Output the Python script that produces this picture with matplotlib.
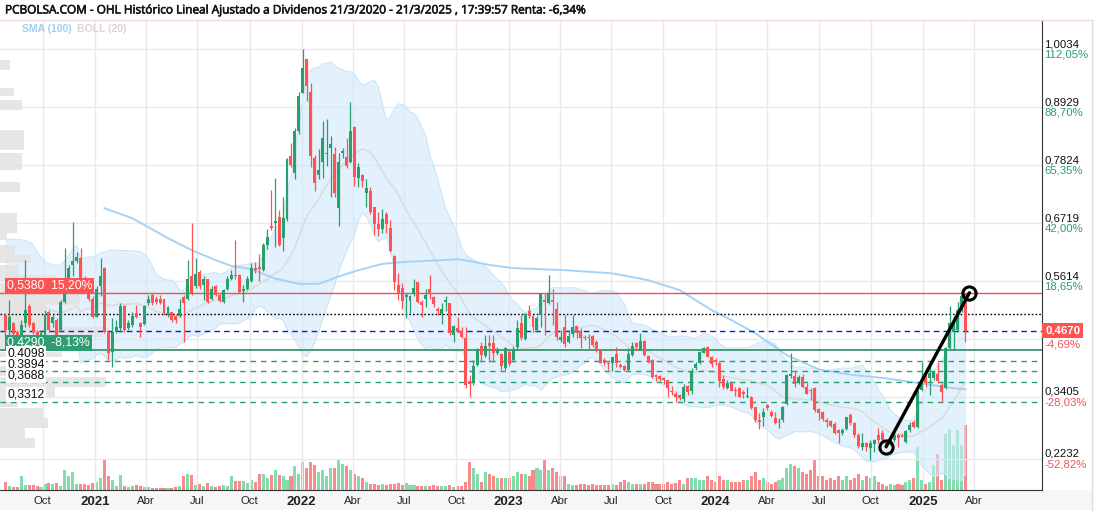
import numpy as np
import pandas as pd
import matplotlib
matplotlib.use("Agg")
import matplotlib.pyplot as plt
import matplotlib.dates as mdates
import matplotlib.patheffects as pe
from matplotlib.patches import Rectangle
from matplotlib.lines import Line2D
from matplotlib.transforms import blended_transform_factory

# ---------------- data (weekly candles) ----------------
first_week = "2020-07-27"

opens = [0.497,0.468,0.481,0.465,0.459,0.481,0.514,0.481,0.465,0.455,
         0.459,0.503,0.481,0.487,0.468,0.522,0.563,0.592,0.600,0.606,
         0.547,0.541,0.528,0.493,0.551,0.587,0.465,0.427,0.465,0.471,
         0.514,0.471,0.478,0.500,0.481,0.480,0.519,0.535,0.528,0.528,
         0.527,0.497,0.502,0.495,0.495,0.530,0.528,0.571,0.552,0.579,
         0.554,0.565,0.528,0.552,0.535,0.522,0.547,0.565,0.573,0.573,
         0.543,0.547,0.562,0.587,0.587,0.582,0.630,0.666,0.671,0.683,
         0.644,0.679,0.800,0.768,0.848,0.920,0.984,0.921,0.795,0.763,
         0.789,0.803,0.815,0.803,0.700,0.806,0.798,0.789,0.855,0.757,
         0.763,0.730,0.733,0.702,0.670,0.661,0.689,0.662,0.609,0.554,
         0.549,0.530,0.524,0.537,0.559,0.521,0.528,0.547,0.530,0.509,
         0.499,0.522,0.519,0.459,0.471,0.467,0.452,0.370,0.368,0.401,
         0.438,0.418,0.443,0.443,0.425,0.422,0.396,0.427,0.411,0.436,
         0.481,0.450,0.505,0.495,0.469,0.497,0.525,0.519,0.525,0.509,
         0.449,0.473,0.446,0.460,0.476,0.467,0.455,0.454,0.457,0.446,
         0.429,0.411,0.406,0.405,0.422,0.401,0.399,0.391,0.420,0.443,
         0.430,0.448,0.419,0.411,0.382,0.380,0.376,0.372,0.352,0.347,
         0.344,0.336,0.362,0.351,0.395,0.405,0.425,0.435,0.417,0.411,
         0.406,0.374,0.357,0.368,0.354,0.358,0.349,0.340,0.340,0.321,
         0.297,0.303,0.325,0.312,0.301,0.292,0.297,0.327,0.380,0.380,
         0.368,0.379,0.360,0.354,0.357,0.317,0.312,0.297,0.295,0.289,
         0.278,0.272,0.280,0.306,0.290,0.268,0.245,0.253,0.243,0.251,
         0.268,0.271,0.252,0.251,0.258,0.268,0.268,0.255,0.278,0.293,
         0.284,0.353,0.382,0.376,0.376,0.384,0.363,0.357,0.433,0.465,
         0.468,0.506,0.538]

highs = [0.500,0.525,0.484,0.468,0.487,0.601,0.518,0.484,0.468,0.468,
         0.506,0.506,0.497,0.490,0.525,0.624,0.592,0.673,0.617,0.624,
         0.570,0.544,0.532,0.551,0.606,0.589,0.468,0.490,0.487,0.519,
         0.516,0.487,0.503,0.516,0.484,0.516,0.535,0.538,0.532,0.535,
         0.528,0.513,0.503,0.497,0.528,0.535,0.601,0.671,0.605,0.582,
         0.570,0.566,0.551,0.554,0.538,0.547,0.570,0.582,0.640,0.575,
         0.554,0.570,0.595,0.598,0.613,0.633,0.660,0.735,0.757,0.697,
         0.721,0.795,0.824,0.852,0.922,1.003,0.984,0.938,0.801,0.812,
         0.866,0.871,0.838,0.817,0.805,0.814,0.833,0.902,0.857,0.787,
         0.766,0.755,0.741,0.703,0.693,0.698,0.693,0.678,0.611,0.577,
         0.557,0.538,0.535,0.565,0.560,0.525,0.547,0.572,0.532,0.512,
         0.519,0.533,0.520,0.478,0.493,0.473,0.474,0.382,0.411,0.433,
         0.446,0.459,0.459,0.459,0.436,0.424,0.435,0.430,0.438,0.487,
         0.497,0.501,0.516,0.497,0.495,0.538,0.539,0.573,0.547,0.522,
         0.468,0.497,0.468,0.496,0.478,0.471,0.459,0.460,0.459,0.449,
         0.430,0.414,0.408,0.417,0.435,0.406,0.401,0.433,0.446,0.446,
         0.462,0.449,0.420,0.412,0.385,0.382,0.379,0.373,0.361,0.351,
         0.347,0.366,0.363,0.395,0.408,0.428,0.435,0.438,0.419,0.414,
         0.408,0.382,0.373,0.370,0.360,0.360,0.354,0.360,0.342,0.322,
         0.309,0.319,0.328,0.316,0.312,0.300,0.323,0.385,0.424,0.389,
         0.382,0.384,0.368,0.357,0.360,0.319,0.314,0.300,0.297,0.293,
         0.279,0.281,0.303,0.309,0.292,0.271,0.272,0.255,0.258,0.260,
         0.281,0.278,0.258,0.260,0.271,0.271,0.271,0.278,0.292,0.297,
         0.354,0.408,0.392,0.405,0.392,0.408,0.367,0.436,0.514,0.494,
         0.522,0.541,0.539]

lows = [0.455,0.455,0.455,0.454,0.455,0.474,0.474,0.460,0.450,0.452,
        0.455,0.465,0.474,0.455,0.465,0.520,0.560,0.570,0.595,0.544,
        0.541,0.524,0.490,0.492,0.532,0.463,0.411,0.398,0.462,0.465,
        0.465,0.468,0.474,0.490,0.455,0.478,0.516,0.516,0.518,0.518,
        0.497,0.493,0.484,0.482,0.493,0.446,0.525,0.535,0.549,0.547,
        0.525,0.519,0.525,0.532,0.522,0.520,0.544,0.563,0.566,0.538,
        0.522,0.544,0.560,0.576,0.562,0.581,0.622,0.659,0.627,0.628,
        0.619,0.676,0.779,0.755,0.841,0.919,0.905,0.779,0.733,0.755,
        0.757,0.780,0.721,0.721,0.667,0.795,0.776,0.786,0.742,0.740,
        0.741,0.703,0.690,0.649,0.647,0.652,0.653,0.617,0.544,0.525,
        0.509,0.490,0.500,0.532,0.519,0.493,0.512,0.528,0.512,0.497,
        0.479,0.505,0.459,0.446,0.463,0.452,0.357,0.341,0.363,0.399,
        0.408,0.417,0.408,0.408,0.420,0.392,0.392,0.399,0.408,0.430,
        0.449,0.449,0.490,0.465,0.465,0.473,0.459,0.518,0.478,0.449,
        0.446,0.436,0.443,0.455,0.452,0.433,0.449,0.430,0.436,0.427,
        0.405,0.401,0.392,0.389,0.398,0.395,0.389,0.389,0.419,0.430,
        0.429,0.419,0.406,0.376,0.370,0.370,0.366,0.341,0.344,0.330,
        0.335,0.330,0.345,0.347,0.392,0.403,0.424,0.416,0.398,0.401,
        0.360,0.355,0.355,0.351,0.342,0.340,0.338,0.338,0.317,0.293,
        0.279,0.285,0.316,0.303,0.289,0.281,0.293,0.325,0.376,0.360,
        0.365,0.357,0.346,0.335,0.312,0.297,0.295,0.284,0.283,0.270,
        0.252,0.268,0.278,0.287,0.265,0.243,0.239,0.238,0.220,0.236,
        0.252,0.255,0.243,0.249,0.255,0.246,0.264,0.252,0.274,0.281,
        0.282,0.351,0.360,0.344,0.373,0.367,0.330,0.355,0.430,0.430,
        0.465,0.503,0.446]

closes = [0.468,0.493,0.460,0.459,0.478,0.506,0.478,0.465,0.455,0.463,
          0.497,0.468,0.492,0.459,0.522,0.563,0.587,0.600,0.608,0.547,
          0.543,0.527,0.493,0.547,0.570,0.465,0.424,0.465,0.474,0.513,
          0.468,0.482,0.495,0.492,0.474,0.513,0.528,0.519,0.522,0.520,
          0.500,0.511,0.487,0.487,0.509,0.520,0.566,0.538,0.575,0.551,
          0.565,0.522,0.546,0.535,0.524,0.544,0.565,0.573,0.570,0.541,
          0.547,0.566,0.587,0.582,0.585,0.630,0.645,0.662,0.676,0.630,
          0.681,0.794,0.782,0.848,0.913,0.967,0.932,0.800,0.749,0.773,
          0.833,0.806,0.822,0.730,0.789,0.809,0.780,0.847,0.760,0.779,
          0.751,0.738,0.692,0.670,0.661,0.679,0.670,0.619,0.560,0.538,
          0.524,0.535,0.532,0.549,0.522,0.516,0.534,0.537,0.517,0.505,
          0.509,0.525,0.462,0.476,0.465,0.455,0.363,0.366,0.399,0.431,
          0.420,0.438,0.438,0.425,0.430,0.399,0.433,0.403,0.431,0.471,
          0.452,0.499,0.495,0.473,0.490,0.536,0.521,0.538,0.521,0.455,
          0.455,0.441,0.457,0.474,0.462,0.452,0.453,0.452,0.439,0.430,
          0.406,0.405,0.403,0.416,0.405,0.398,0.391,0.422,0.438,0.436,
          0.448,0.420,0.408,0.378,0.378,0.374,0.372,0.357,0.349,0.341,
          0.338,0.360,0.349,0.389,0.403,0.427,0.433,0.417,0.403,0.408,
          0.370,0.359,0.368,0.352,0.351,0.341,0.346,0.342,0.319,0.297,
          0.292,0.312,0.320,0.305,0.290,0.293,0.322,0.382,0.385,0.366,
          0.378,0.360,0.347,0.351,0.316,0.309,0.298,0.293,0.285,0.272,
          0.271,0.278,0.302,0.290,0.268,0.247,0.252,0.245,0.252,0.258,
          0.258,0.258,0.246,0.258,0.268,0.262,0.265,0.276,0.287,0.284,
          0.351,0.373,0.367,0.386,0.389,0.370,0.349,0.433,0.481,0.478,
          0.506,0.532,0.467]

volumes = [8,4,3,3,14,5,5,5,4,3,
           6,7,6,7,4,20,14,18,6,6,
           6,5,7,8,12,30,14,10,4,15,
           4,3,4,5,4,3,3,2,2,2,
           2,2,2,3,4,14,16,15,5,6,
           4,7,4,3,4,5,4,14,9,9,
           9,7,10,8,16,16,12,15,20,15,
           14,10,14,24,16,28,22,28,25,18,
           20,14,22,22,30,26,24,20,16,14,
           12,8,6,6,5,6,5,6,6,7,
           5,7,5,5,4,4,4,4,5,4,
           4,4,5,3,4,4,8,28,22,16,
           8,18,16,14,12,12,12,12,14,18,
           16,16,14,20,22,20,30,20,22,18,
           14,14,6,5,5,6,6,5,6,5,
           5,5,5,6,5,8,10,8,6,6,
           6,6,8,8,6,6,6,8,6,7,
           10,6,12,12,12,10,10,14,10,8,
           14,10,10,8,8,8,10,10,14,18,
           10,12,8,6,8,10,12,22,26,24,
           22,18,16,20,30,14,14,10,12,10,
           14,10,14,10,12,16,10,14,12,14,
           8,6,4,6,5,6,5,8,10,12,
           43,10,6,8,25,36,10,56,61,45,
           60,45,65]

# Bollinger(20) for the first 19 weeks (history before the window)
bb_early_upper = [0.640,0.641,0.641,0.640,0.640,0.638,0.636,0.630,0.618,0.606,
                  0.598,0.594,0.592,0.591,0.593,0.600,0.610,0.622,0.630]
bb_early_mid = [0.552,0.550,0.548,0.545,0.541,0.537,0.533,0.528,0.522,0.517,
                0.512,0.508,0.505,0.503,0.502,0.503,0.506,0.510,0.514]
bb_early_lower = [0.462,0.460,0.456,0.452,0.449,0.447,0.446,0.446,0.446,0.447,
                  0.447,0.447,0.447,0.447,0.447,0.446,0.446,0.447,0.448]

# SMA(100) (week index, value)
sma100_week = [25,32,41,47,53,57,62,68,74,79,84,89,95,101,110,114,118,122,128,
               141,153,162,170,174,178,183,189,197,205,214,222,231,239,242]
sma100_val = [0.700,0.681,0.643,0.620,0.601,0.590,0.584,0.566,0.556,0.556,0.570,
              0.582,0.594,0.598,0.601,0.603,0.598,0.592,0.586,0.582,0.576,0.563,
              0.544,0.525,0.506,0.487,0.462,0.420,0.393,0.382,0.376,0.366,0.357,0.355]

# volume-by-price profile (price low, price high, volume units)
profile_lo = [0.963,0.914,0.887,0.811,0.773,0.731,0.653,0.640,0.611,0.596,0.573,
              0.560,0.535,0.516,0.500,0.474,0.455,0.430,0.417,0.380,0.360,0.340,
              0.321,0.300,0.281,0.262,0.243]
profile_hi = [0.982,0.929,0.906,0.849,0.805,0.750,0.691,0.653,0.630,0.611,0.592,
              0.573,0.558,0.535,0.516,0.500,0.474,0.455,0.426,0.400,0.379,0.360,
              0.339,0.320,0.300,0.281,0.262]
profile_vol = [10,14,22,24,22,20,17,7,15,31,18,57,60,80,45,48,103,70,62,30,106,55,
               18,43,48,25,35]

# horizontal levels
level_red = 0.5380
level_dotted = 0.4980
level_last = 0.4670
level_green = 0.4290
level_dashed = [0.4098, 0.3894, 0.3688, 0.3312]
dashed_labels = ["0,4098", "0,3894", "0,3688", "0,3312"]

# right axis labels
axis_prices = [1.0034, 0.8929, 0.7824, 0.6719, 0.5614, 0.4509, 0.3405, 0.2232]
axis_price_txt = ["1,0034", "0,8929", "0,7824", "0,6719", "0,5614", "", "0,3405", "0,2232"]
axis_pct_txt = ["112,05%", "88,70%", "65,35%", "42,00%", "18,65%", "-4,69%", "-28,03%", "-52,82%"]

tick_dates = ["2020-10-01","2021-01-01","2021-04-01","2021-07-01","2021-10-01",
              "2022-01-01","2022-04-01","2022-07-01","2022-10-01","2023-01-01",
              "2023-04-01","2023-07-01","2023-10-01","2024-01-01","2024-04-01",
              "2024-07-01","2024-10-01","2025-01-01","2025-04-01"]
tick_labels = ["Oct","2021","Abr","Jul","Oct","2022","Abr","Jul","Oct","2023",
               "Abr","Jul","Oct","2024","Abr","Jul","Oct","2025","Abr"]

# trend line (week index, price)
trend_week = [222, 243]
trend_price = [0.2457, 0.539]

title = "PCBOLSA.COM - OHL Histórico Lineal Ajustado a Dividenos 21/3/2020 - 21/3/2025 , 17:39:57 Renta: -6,34%"

# ---------------- figure ----------------
W, H = 1096, 512
fig = plt.figure(figsize=(W / 100, H / 100), dpi=100)
fig.patch.set_facecolor("white")

def fx(px):
    return px / W

def fy(py):
    return 1 - py / H

rect = [0, fy(490), fx(1042), (490 - 20) / H]
axv = fig.add_axes(rect, zorder=0)
ax = fig.add_axes(rect, zorder=1)
ax.patch.set_visible(False)

base = pd.Timestamp(first_week)
n = len(closes)
dates = pd.date_range(base, periods=n, freq="7D")
xd = mdates.date2num(dates)
o = np.array(opens); h = np.array(highs); l = np.array(lows); c = np.array(closes)

x0 = mdates.date2num(base - pd.Timedelta(days=9.35))
x1 = mdates.date2num(pd.Timestamp("2025-07-30"))
ylo, yhi = 0.1632, 1.0587
for a in (ax, axv):
    a.set_xlim(x0, x1)
ax.set_ylim(ylo, yhi)

GREEN = "#26a06e"
RED = "#ff5252"
up = c >= o

# volume
vcol = np.where(up, "#82dcae", "#f78a8a")
axv.bar(xd, volumes, width=5.4, color=vcol, linewidth=0)
axv.set_ylim(0, 470)
axv.axis("off")

# grid
for d in tick_dates:
    ax.axvline(mdates.date2num(pd.Timestamp(d)), color="#e9e9e9", lw=1, zorder=0.2)
for p in axis_prices:
    ax.axhline(p, color="#e9e9e9", lw=1, zorder=0.2)

# Bollinger (20)
s = pd.Series(c)
mid = s.rolling(20).mean().values
sd = s.rolling(20).std(ddof=0).values
bu = mid + 2 * sd
bl = mid - 2 * sd
ne = len(bb_early_upper)
bu[:ne] = bb_early_upper
bl[:ne] = bb_early_lower
mid[:ne] = bb_early_mid
ax.fill_between(xd, bl, bu, color="#cfe8fb", alpha=0.6, lw=0, zorder=1)
ax.plot(xd, bu, color="#cbe5f8", lw=0.8, zorder=1.1)
ax.plot(xd, bl, color="#cbe5f8", lw=0.8, zorder=1.1)
ax.plot(xd, mid, color="#dcdcdc", lw=1.2, zorder=1.2)

# SMA(100)
ax.plot(xd[sma100_week], sma100_val, color="#a6d2f6", lw=1.4, zorder=1.3)

# volume profile
tr = blended_transform_factory(ax.transAxes, ax.transData)
for lo_, hi_, v in zip(profile_lo, profile_hi, profile_vol):
    ax.add_patch(Rectangle((0, lo_), v / 1042.0, hi_ - lo_, transform=tr,
                           facecolor="#e2e2e2", alpha=0.85, lw=0, zorder=1.5))

# levels
ax.axhline(level_red, color="#f44f4f", lw=1, zorder=2)
ax.axhline(level_dotted, color="black", lw=1, ls=(0, (1.2, 1.5)), zorder=2)
ax.axhline(level_last, color="#1020c8", lw=1, ls=(0, (4, 3)), zorder=2)
ax.axhline(level_green, color="#2e8b62", lw=1.2, zorder=2)
for p in level_dashed:
    ax.axhline(p, color="#26a06e", lw=1, ls=(0, (4, 3.5)), zorder=2)

# candles
cols = np.where(up, GREEN, RED)
ax.vlines(xd, l, h, colors=cols, lw=0.9, zorder=3)
body_lo = np.minimum(o, c)
body_h = np.maximum(np.abs(c - o), 0.0022)
ax.bar(xd, body_h, bottom=body_lo, width=5.2, color=cols, linewidth=0, zorder=3.1)

# trend line
tx = [mdates.date2num(base + pd.Timedelta(days=7 * w)) for w in trend_week]
ax.plot(tx, trend_price, color="black", lw=2.4, zorder=5, solid_capstyle="round")
ax.plot(tx, trend_price, ls="none", marker="o", ms=9.5, mfc="none", mec="black",
        mew=2.2, zorder=5.1)

# axes styling
ax.set_yticks([])
ax.set_xticks([mdates.date2num(pd.Timestamp(d)) for d in tick_dates])
ax.set_xticklabels(tick_labels, family="Liberation Sans", fontsize=8.2, color="#222222")
for lbl in ax.get_xticklabels():
    if lbl.get_text().isdigit():
        lbl.set_fontweight("bold")
        lbl.set_fontsize(9.5)
ax.tick_params(axis="x", length=0, pad=4)
for sp in ("top", "left"):
    ax.spines[sp].set_visible(False)
ax.spines["bottom"].set_color("#333333")
ax.spines["right"].set_color("#333333")

# right labels
ty = blended_transform_factory(ax.transAxes, ax.transData)
xr = 1.0 + 2.5 / 1042
for p, pt, pc in zip(axis_prices, axis_price_txt, axis_pct_txt):
    if pt:
        ax.annotate(pt, xy=(xr, p), xycoords=ty, xytext=(0, 3.6), textcoords="offset points",
                    ha="left", va="center", fontsize=8.2, family="Liberation Sans",
                    color="#111111", annotation_clip=False)
    ax.annotate(pc, xy=(xr, p), xycoords=ty, xytext=(0, -4.3), textcoords="offset points",
                ha="left", va="center", fontsize=8.2, family="Liberation Sans",
                color=("#2e9e72" if not pc.startswith("-") else "#f05555"),
                annotation_clip=False)
ax.text(1.0 + 3 / 1042, level_last, "0,4670", transform=ty, ha="left", va="center",
        fontsize=8.2, family="Liberation Sans", color="white", fontweight="bold",
        bbox=dict(boxstyle="square,pad=0.22", fc="#ff5252", ec="none"), zorder=6)

# left labels
xl = 7 / 1042
ax.text(xl, level_red + 0.003, "0,5380  15,20%", transform=ty, ha="left", va="bottom",
        fontsize=8.8, family="Liberation Sans", color="white",
        bbox=dict(boxstyle="square,pad=0.15", fc="#ff5252", ec="none"), zorder=6)
ax.text(xl, level_green + 0.003, "0,4290  -8,13%", transform=ty, ha="left", va="bottom",
        fontsize=8.8, family="Liberation Sans", color="white",
        bbox=dict(boxstyle="square,pad=0.15", fc="#2e9e72", ec="none"), zorder=6)
for p, t in zip(level_dashed, dashed_labels):
    ax.text(xl, p + 0.002, t, transform=ty, ha="left", va="bottom",
            fontsize=8.8, family="Liberation Sans", color="#111111",
            bbox=dict(boxstyle="square,pad=0.12", fc="white", ec="none"), zorder=6)

# title and legend
fig.text(fx(5), fy(10), title, ha="left", va="center", fontsize=8.5,
         family="Open Sans", color="#161616",
         path_effects=[pe.withStroke(linewidth=0.45, foreground="#161616")])
fig.text(fx(22), fy(29), "SMA (100)", ha="left", va="center", fontsize=7.5,
         family="Liberation Sans", fontweight="bold", color="#9fcff4")
fig.text(fx(77), fy(29), "BOLL (20)", ha="left", va="center", fontsize=7.5,
         family="Liberation Sans", fontweight="bold", color="#d6d6d6")

# frame decorations
fig.add_artist(Rectangle((0, fy(510)), fx(1092), (510 - 490) / H, transform=fig.transFigure,
                         facecolor="#f6f6f6", edgecolor="none", zorder=-5))
fig.add_artist(Line2D([fx(1092), fx(1092)], [fy(20), fy(510)], transform=fig.transFigure,
                      color="#dddddd", lw=1))
fig.add_artist(Line2D([0, fx(1092)], [fy(19.5), fy(19.5)], transform=fig.transFigure,
                      color="#f0dcdc", lw=1))

fig.savefig("out.png", dpi=100, facecolor="white")
